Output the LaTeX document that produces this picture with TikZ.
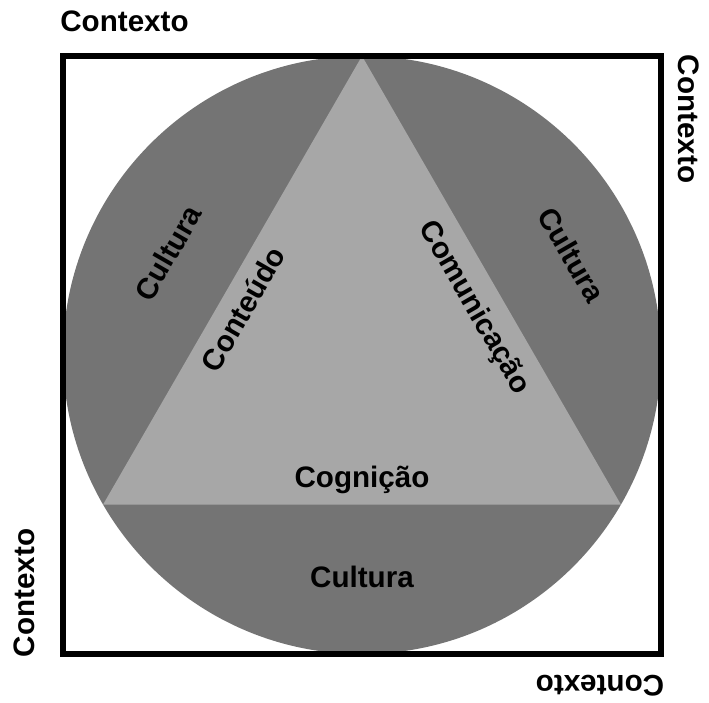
\documentclass[tikz,border=0pt]{standalone}
\usepackage{fontspec}
\setmainfont{Liberation Sans}
\usetikzlibrary{calc}
\definecolor{darkfill}{HTML}{747474}
\definecolor{lightfill}{HTML}{A7A7A7}
\begin{document}
\begin{tikzpicture}[x=1pt,y=-1pt,
  lbl/.style={font=\fontsize{29.6}{34}\selectfont\bfseries, inner sep=0pt, text=black}]
\useasboundingbox (0,0) rectangle (709,702);
\coordinate (c) at (362,355);
\fill[darkfill] (c) circle[radius=299pt];
\coordinate (apex) at (362,56);
\coordinate (bl) at ($(c)+(-258.9,149.5)$);
\coordinate (br) at ($(c)+(258.9,149.5)$);
\fill[lightfill] (apex) -- (bl) -- (br) -- cycle;
\draw[line width=6pt] (63,55.5) rectangle (661,654);
\node[lbl] (ctop) at (124.5,21) {Contexto};
\node[lbl, rotate=-90] (cright) at (689,119) {Contexto};
\node[lbl, rotate=90] (cleft) at (24,593) {Contexto};
\node[lbl, rotate=180] (cbot) at (600,686) {Contexto};
\node[lbl, rotate=60] (cul1) at (168,253) {Cultura};
\node[lbl, rotate=-60] (cul2) at (572,255) {Cultura};
\node[lbl] (cul3) at (362,577) {Cultura};
\node[lbl, rotate=60] (cont) at (243,309) {Conteúdo};
\node[lbl, rotate=-60] (com) at (474,308) {Comunicação};
\node[lbl] (cog) at (362,480) {Cognição};
\end{tikzpicture}
\end{document}
